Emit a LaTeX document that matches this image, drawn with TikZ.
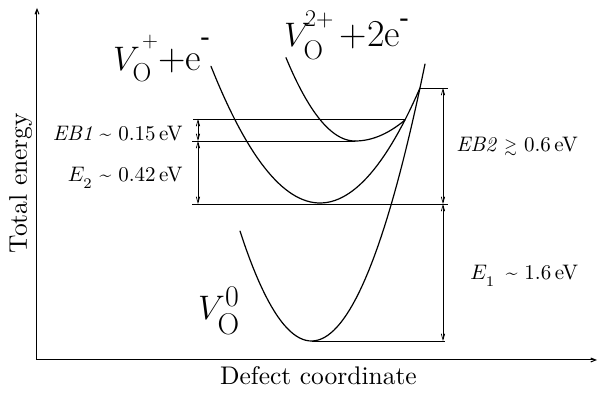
\documentclass[tikz,border=0pt]{standalone}
\usepackage{fix-cm}
\usepackage{amsmath,amssymb}
\usetikzlibrary{arrows.meta}
\newcommand{\wellcurve}[5]{%
  \draw[curve,domain=#4:#5,samples=60] plot (\x,{#2+#3*(\x-#1)^2});}
\newcommand{\vscript}[3][24]{\raisebox{#2}{\fontsize{#1}{#1}\selectfont #3}}

\begin{document}
\begin{tikzpicture}[x=1pt,y=1pt,
  curve/.style={line width=1.2pt,line cap=round},
  level/.style={line width=0.9pt},
  dimline/.style={line width=0.7pt,{Straight Barb[length=6pt,width=3.5pt]}-{Straight Barb[length=6pt,width=3.5pt]}},
  axis/.style={line width=1pt,-{Straight Barb[length=5pt,width=4pt]}},
  axislabel/.style={font=\fontsize{10}{12}\selectfont,scale=2.55},
  biglabel/.style={font=\fontsize{34}{40}\selectfont,inner sep=0pt,anchor=base west},
  smalllabel/.style={font=\fontsize{10}{12}\selectfont,scale=2.1,inner sep=0pt}]
  \useasboundingbox (-37,-33) rectangle (561,360);
  % axes
  \coordinate (origin) at (0,0);
  \coordinate (ytop) at (0,352);
  \coordinate (xend) at (560,0);
  \draw[axis] (origin) -- (ytop);
  \draw[axis] (origin) -- (xend);
  \node[axislabel,rotate=90] (ylab) at (-16.25,177) {Total energy};
  \node[axislabel,anchor=base] (xlab) at (281.5,-25) {Defect coordinate};
  % potential curves
  \wellcurve{274.5}{19}{0.0215}{203}{388}
  \wellcurve{283}{157}{0.0115}{174}{383}
  \wellcurve{318}{219}{0.0175}{249}{318}
  \wellcurve{318}{219}{0.0084}{318}{368}
  % levels
  \draw[level] (156,241) -- (368,241);
  \draw[level] (155,219) -- (318,219);
  \draw[level] (155,156) -- (411,156);
  \draw[level] (383,272) -- (411,272);
  \draw[level] (274.5,19) -- (408,19);
  % barriers
  \coordinate (eb1top) at (161,241);
  \coordinate (eb1bot) at (161,219);
  \coordinate (e2bot) at (161,156);
  \coordinate (eb2top) at (406,272);
  \coordinate (eb2bot) at (406,156);
  \coordinate (e1bot) at (406,19);
  \draw[dimline] (eb1top) -- (eb1bot);
  \draw[dimline] (eb1bot) -- (e2bot);
  \draw[dimline] (eb2top) -- (eb2bot);
  \draw[dimline] (eb2bot) -- (e1bot);
  \node[smalllabel,anchor=base east] (eb1lab) at (146,219.5) {\textit{EB1} \textasciitilde{} 0.15\,eV};
  \node[smalllabel,anchor=base east] (e2lab) at (146,178.5) {$E_{\raisebox{-1.8pt}{$\scriptstyle 2$}}$ \textasciitilde{} 0.42\,eV};
  \node[smalllabel,anchor=base west] (eb2lab) at (419,208.3) {\textit{EB2} $\scriptstyle\gtrsim$ 0.6\,eV};
  \node[smalllabel,anchor=base west] (e1lab) at (433,80) {$E_{\raisebox{-1.8pt}{$\scriptstyle 1$}}$\enspace\textasciitilde{} 1.6\,eV};
  % charge states
  \node[biglabel] (vplus) at (76,289.5)
    {$V^{\kern2pt\vscript[22]{11pt}{+}}_{\vscript[26]{-3pt}{O}}${\fontsize{38}{40}\selectfont +e}\kern0pt\vscript{26pt}{\textbf{-}}};
  \node[biglabel] (vtwo) at (247,313.5)
    {$V^{\kern-6pt\vscript{7.5pt}{2+}}_{\vscript[27]{-4.6pt}{O}}$\kern6pt{\fontsize{38}{40}\selectfont +2e}\kern0pt\vscript{21pt}{\textbf{-}}};
  \node[biglabel] (vzero) at (161,40)
    {$V^{\vscript[30]{1pt}{0}}_{\vscript[30]{-1pt}{O}}$};
\end{tikzpicture}
\end{document}
